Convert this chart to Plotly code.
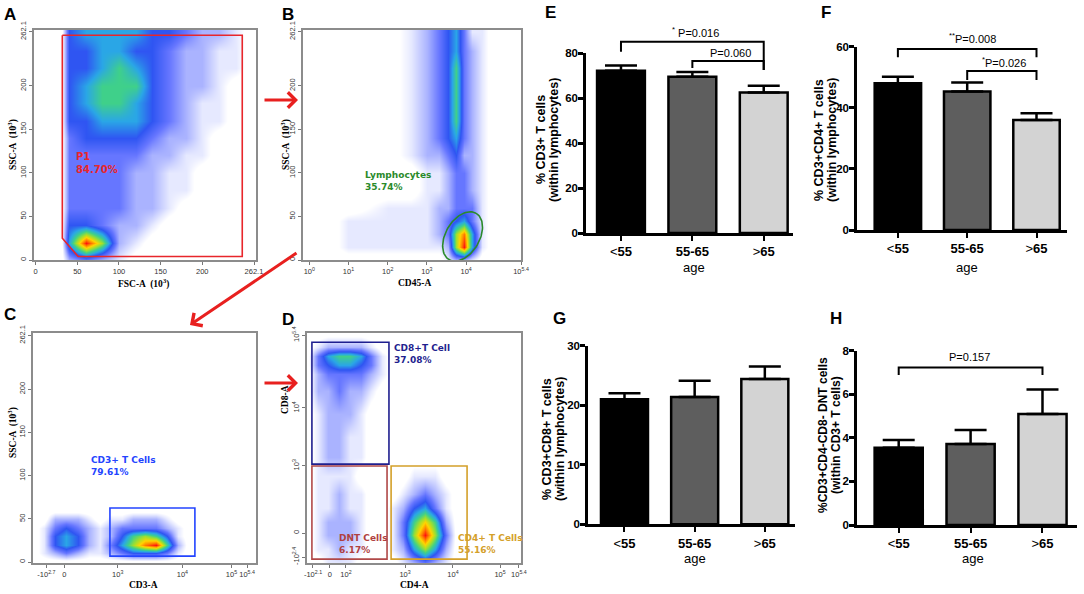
import numpy as np
import plotly.graph_objects as go

W, H = 1084, 594

# ================= DATA =================
# ---- bar charts (E-H) ----
age_groups = ["<55", "55-65", ">65"]
age_ticktext = ["&lt;<b>55</b>", "<b>55-65</b>", "&gt;<b>65</b>"]
group_pos = [0, 1, 2]

cd3_mean = [72.1, 69.5, 62.5]
cd3_err = [2.3, 2.1, 3.0]
cd4_mean = [48.0, 45.3, 36.0]
cd4_err = [2.2, 3.0, 2.2]
cd8_mean = [21.0, 21.4, 24.4]
cd8_err = [1.0, 2.7, 2.1]
dnt_mean = [3.55, 3.72, 5.09]
dnt_err = [0.35, 0.64, 1.13]

E_yticks = [0, 20, 40, 60, 80]
F_yticks = [0, 20, 40, 60]
G_yticks = [0, 10, 20, 30]
H_yticks = [0, 2, 4, 6, 8]

# significance brackets
E_sig_from = [0, 1]
E_sig_to = [2, 2]
E_sig_y = [85.0, 76.4]
E_sig_left_end = [80.6, 73.3]
E_sig_right_end = [72.4, 72.4]
E_sig_text = ["<sup>*</sup> P=0.016", "P=0.060"]
E_sig_text_x = [1.05, 1.53]
E_sig_text_y = [89.3, 80.1]

F_sig_from = [0, 1]
F_sig_to = [2, 2]
F_sig_y = [59.2, 52.0]
F_sig_left_end = [56.5, 49.1]
F_sig_right_end = [56.5, 49.1]
F_sig_text = ["<sup>**</sup>P=0.008", "<sup>*</sup>P=0.026"]
F_sig_text_x = [1.08, 1.53]
F_sig_text_y = [62.8, 55.0]

H_sig_from = [0]
H_sig_to = [2]
H_sig_y = [7.22]
H_sig_left_end = [6.88]
H_sig_right_end = [6.88]
H_sig_text = ["P=0.157"]
H_sig_text_x = [0.99]
H_sig_text_y = [7.72]

# ---- flow cytometry density grids (estimated event density, 0..10) ----
A_x = [0, 30, 40, 60, 80, 100, 120, 140, 160, 180, 200, 220, 240, 260]
A_y = [0, 20, 40, 60, 80, 100, 120, 140, 160, 180, 200, 220, 240, 260]
A_z = [
    [0, 0, 2, 3, 2, 1, 0, 0, 0, 0, 0, 0, 0, 0],
    [0, 0, 5, 10, 7, 2, 1, 0, 0, 0, 0, 0, 0, 0],
    [0, 0, 4, 4, 3, 2, 2, 1, 0, 0, 0, 0, 0, 0],
    [0, 0, 3, 3, 3, 3, 2, 2, 1, 0, 0, 0, 0, 0],
    [0, 0, 3, 3, 3, 3, 2, 2, 1, 1, 0, 0, 0, 0],
    [0, 0, 3, 3, 3, 3, 2, 2, 1, 1, 0, 0, 0, 0],
    [0, 0, 3, 3, 3, 3, 3, 2, 2, 1, 1, 0, 0, 0],
    [0, 0, 3, 4, 4, 4, 4, 3, 2, 2, 1, 0, 0, 0],
    [0, 0, 4, 4, 5, 5, 5, 4, 3, 2, 1, 1, 0, 0],
    [0, 0, 4, 5, 6, 6, 5, 4, 3, 2, 1, 1, 0, 0],
    [0, 0, 4, 5, 6, 6, 6, 4, 3, 2, 2, 1, 0, 0],
    [0, 0, 4, 4, 5, 6, 5, 4, 3, 2, 2, 1, 1, 0],
    [0, 0, 4, 4, 5, 5, 4, 4, 3, 2, 2, 1, 1, 0],
    [0, 0, 4, 5, 5, 5, 5, 4, 4, 3, 2, 2, 1, 0],
]

B_x = [-0.16, 0.5, 1, 2, 2.6, 3.0, 3.3, 3.55, 3.75, 3.95, 4.15, 4.4, 4.7, 5.4]  # log10(CD45)
B_y = [0, 15, 30, 45, 60, 80, 100, 120, 140, 160, 180, 200, 220, 240, 262]
B_z = [
    [0, 0, 0, 0, 0, 0, 0, 1, 2, 2, 1, 0, 0, 0],
    [0, 0, 1, 1, 1, 1, 1, 2, 7, 10, 5, 1, 0, 0],
    [0, 0, 1, 1, 1, 1, 2, 3, 7, 9, 5, 1, 0, 0],
    [0, 0, 1, 1, 1, 1, 2, 3, 4, 5, 3, 1, 0, 0],
    [0, 0, 0, 1, 1, 1, 2, 2, 3, 3, 3, 1, 0, 0],
    [0, 0, 0, 0, 0, 1, 1, 2, 3, 3, 2, 1, 0, 0],
    [0, 0, 0, 0, 0, 1, 1, 2, 3, 3, 2, 1, 0, 0],
    [0, 0, 0, 0, 1, 2, 2, 3, 4, 2, 2, 1, 0, 0],
    [0, 0, 0, 0, 1, 2, 3, 4, 5, 3, 2, 1, 0, 0],
    [0, 0, 0, 0, 1, 2, 3, 4, 6, 3, 2, 1, 0, 0],
    [0, 0, 0, 0, 1, 2, 3, 4, 6, 3, 2, 1, 0, 0],
    [0, 0, 0, 0, 1, 2, 3, 4, 6, 3, 2, 1, 0, 0],
    [0, 0, 0, 0, 1, 2, 3, 4, 6, 3, 2, 1, 0, 0],
    [0, 0, 0, 0, 1, 2, 3, 4, 5, 3, 2, 1, 0, 0],
    [0, 0, 0, 0, 1, 2, 3, 4, 5, 3, 1, 1, 0, 0],
]

C_x = [0, 5, 10, 15, 20, 25, 30, 35, 40, 45, 50, 55, 60, 65, 70, 75, 100]  # CD3 display units
C_y = [0, 10, 20, 30, 40, 50, 60, 265]
C_z = [
    [0, 0, 0, 0, 0, 0, 0, 0, 0, 0, 0, 0, 0, 0, 0, 0, 0],
    [0, 1, 2, 3, 2, 1, 1, 2, 3, 4, 4, 4, 3, 1, 0, 0, 0],
    [0, 1, 4, 5, 4, 2, 1, 3, 5, 7, 9, 10, 6, 2, 0, 0, 0],
    [0, 1, 4, 5, 4, 2, 1, 2, 4, 6, 7, 6, 4, 1, 0, 0, 0],
    [0, 1, 3, 4, 3, 2, 1, 2, 3, 3, 3, 3, 2, 1, 0, 0, 0],
    [0, 0, 2, 2, 2, 1, 0, 1, 1, 2, 2, 2, 1, 0, 0, 0, 0],
    [0, 0, 0, 0, 0, 0, 0, 0, 0, 0, 0, 0, 0, 0, 0, 0, 0],
    [0, 0, 0, 0, 0, 0, 0, 0, 0, 0, 0, 0, 0, 0, 0, 0, 0],
]

D_x = [0, 5, 10, 15, 20, 25, 30, 35, 40, 45, 50, 55, 60, 65, 70, 80, 100]  # CD4 display units
D_y = [0, 6, 12, 18, 24, 30, 38, 46, 55, 65, 75, 82, 86, 90, 94, 100]      # CD8 display units
D_z = [
    [0, 0, 1, 1, 1, 0, 0, 0, 0, 1, 2, 3, 2, 1, 0, 0, 0],
    [0, 1, 1, 2, 1, 1, 0, 0, 1, 2, 5, 7, 5, 2, 0, 0, 0],
    [0, 1, 2, 2, 2, 1, 0, 0, 1, 3, 7, 10, 7, 3, 0, 0, 0],
    [0, 1, 2, 2, 2, 1, 0, 0, 1, 3, 6, 8, 6, 2, 0, 0, 0],
    [0, 1, 1, 2, 1, 1, 0, 0, 1, 2, 4, 5, 3, 1, 0, 0, 0],
    [0, 1, 1, 2, 1, 1, 0, 0, 0, 1, 2, 3, 2, 1, 0, 0, 0],
    [0, 1, 1, 1, 1, 0, 0, 0, 0, 0, 1, 1, 1, 0, 0, 0, 0],
    [0, 1, 2, 2, 1, 1, 0, 0, 0, 0, 0, 0, 0, 0, 0, 0, 0],
    [0, 1, 2, 2, 1, 1, 0, 0, 0, 0, 0, 0, 0, 0, 0, 0, 0],
    [0, 1, 2, 2, 2, 1, 0, 0, 0, 0, 0, 0, 0, 0, 0, 0, 0],
    [0, 2, 2, 3, 2, 2, 1, 0, 0, 0, 0, 0, 0, 0, 0, 0, 0],
    [0, 2, 3, 3, 3, 3, 2, 1, 0, 0, 0, 0, 0, 0, 0, 0, 0],
    [0, 3, 4, 5, 5, 4, 3, 1, 0, 0, 0, 0, 0, 0, 0, 0, 0],
    [0, 3, 5, 6, 6, 5, 3, 1, 0, 0, 0, 0, 0, 0, 0, 0, 0],
    [0, 1, 2, 2, 2, 2, 1, 0, 0, 0, 0, 0, 0, 0, 0, 0, 0],
    [0, 0, 0, 0, 0, 0, 0, 0, 0, 0, 0, 0, 0, 0, 0, 0, 0],
]

# ---- flow tick labels ----
A_ticks = [0, 50, 100, 150, 200, 262.1]
A_ticktext = ["0", "50", "100", "150", "200", "262.1"]
B_xticks = [0, 1, 2, 3, 4, 5.4]
B_xticktext = ["10<sup>0</sup>", "10<sup>1</sup>", "10<sup>2</sup>", "10<sup>3</sup>",
               "10<sup>4</sup>", "10<sup>5.4</sup>"]
C_xticks = [6, 14, 38, 67, 89, 96]
C_xticktext = ["-10<sup>2.7</sup>", "0", "10<sup>3</sup>", "10<sup>4</sup>",
               "10<sup>5</sup>", "10<sup>5.4</sup>"]
D_xticks = [2.8, 10.7, 18.2, 45.8, 68.2, 90.2, 99]
D_xticktext = ["-10<sup>2.1</sup>", "0", "10<sup>2</sup>", "10<sup>3</sup>", "10<sup>4</sup>",
               "10<sup>5</sup>", "10<sup>5.4</sup>"]
D_yticks = [2.6, 13, 42.2, 67.4, 99]
D_yticktext = ["-10<sup>2.4</sup>", "0", "10<sup>3</sup>", "10<sup>4</sup>", "10<sup>5.4</sup>"]

# ---- gates ----
gateA_x = [32, 248, 248, 51, 32, 32]
gateA_y = [258, 258, 4, 4, 25, 258]
gateB_center = [3.91, 27.0]
gateC_x = [34.5, 72.6]
gateC_y = [7.0, 62.6]
gateD_cd8_x = [2.3, 38.3]
gateD_cd8_y = [43.0, 96.0]
gateD_dnt_x = [2.3, 37.4]
gateD_dnt_y = [1.7, 42.2]
gateD_cd4_x = [39.3, 74.8]
gateD_cd4_y = [1.7, 42.2]

# ================= STYLE / LAYOUT =================
def xd(a, b):
    return [a / W, b / W]

def yd(top, bottom):
    return [1 - bottom / H, 1 - top / H]

def px(x):
    return x / W

def py(y):
    return 1 - y / H

density_scale = [
    [0.0, "#ffffff"], [0.05, "#ffffff"], [0.1, "#e6e9ff"], [0.2, "#aab3ff"],
    [0.3, "#6676ff"], [0.4, "#2f55f2"], [0.5, "#2aa6e6"], [0.6, "#3fd08a"],
    [0.7, "#a0df2e"], [0.8, "#ffd400"], [0.9, "#ff7a00"], [1.0, "#ff1010"],
]

SANS = "Arial, Liberation Sans, sans-serif"
SERIF = "Times New Roman, Liberation Serif, serif"

fig = go.Figure()

def heat(x, y, z, xa, ya):
    fig.add_trace(go.Heatmap(x=x, y=y, z=z, zmin=0, zmax=10, zsmooth="best",
                             colorscale=density_scale, showscale=False,
                             hoverinfo="skip", xaxis=xa, yaxis=ya))

heat(A_x, A_y, A_z, "x", "y")
heat(B_x, B_y, B_z, "x2", "y2")
heat(C_x, C_y, C_z, "x3", "y3")
heat(D_x, D_y, D_z, "x4", "y4")

# gate A polygon
fig.add_trace(go.Scatter(x=gateA_x, y=gateA_y, mode="lines",
                         line=dict(color="#e8262b", width=1.6),
                         hoverinfo="skip", xaxis="x", yaxis="y"))
# gate B ellipse (tilted)
t = np.linspace(0, 2 * np.pi, 97)
a_px, b_px, ang = 27.0, 17.0, np.deg2rad(60)
px_per_dec, px_per_ssc = 39.3, 0.877
ex = gateB_center[0] + (a_px * np.cos(t) * np.cos(ang) - b_px * np.sin(t) * np.sin(ang)) / px_per_dec
ey = gateB_center[1] + (a_px * np.cos(t) * np.sin(ang) + b_px * np.sin(t) * np.cos(ang)) / px_per_ssc
fig.add_trace(go.Scatter(x=ex, y=ey, mode="lines", line=dict(color="#2a8a2a", width=1.6),
                         hoverinfo="skip", xaxis="x2", yaxis="y2"))

shapes = []
def rect(xr, yr, xa, ya, color):
    shapes.append(dict(type="rect", xref=xa, yref=ya, x0=xr[0], x1=xr[1], y0=yr[0], y1=yr[1],
                       line=dict(color=color, width=1.6), fillcolor="rgba(0,0,0,0)"))

rect(gateC_x, gateC_y, "x3", "y3", "#2344ff")
rect(gateD_cd8_x, gateD_cd8_y, "x4", "y4", "#1f1f8f")
rect(gateD_dnt_x, gateD_dnt_y, "x4", "y4", "#b04848")
rect(gateD_cd4_x, gateD_cd4_y, "x4", "y4", "#d4a02a")

# bar charts
bar_specs = [
    ("x5", "y5", cd3_mean, cd3_err),
    ("x6", "y6", cd4_mean, cd4_err),
    ("x7", "y7", cd8_mean, cd8_err),
    ("x8", "y8", dnt_mean, dnt_err),
]
for xa, ya, m, e in bar_specs:
    fig.add_trace(go.Bar(
        x=group_pos, y=m, width=0.67, xaxis=xa, yaxis=ya,
        marker=dict(color=["#000000", "#5e5e5e", "#d3d3d3"],
                    line=dict(color="#000000", width=2.5)),
        error_y=dict(type="data", symmetric=False, array=e, arrayminus=[0, 0, 0],
                     color="#000000", thickness=2.5, width=16),
        hoverinfo="skip"))

annotations = []

def brackets(xa, ya, frm, to, yy, le, re, txt, tx, ty):
    for i in range(len(frm)):
        fig.add_trace(go.Scatter(x=[frm[i], frm[i], to[i], to[i]],
                                 y=[le[i], yy[i], yy[i], re[i]], mode="lines",
                                 line=dict(color="#000000", width=2),
                                 hoverinfo="skip", xaxis=xa, yaxis=ya))
        annotations.append(dict(x=tx[i], y=ty[i], xref=xa, yref=ya, text=txt[i],
                                showarrow=False, xanchor="center", yanchor="middle",
                                font=dict(family=SANS, size=11, color="#000")))

brackets("x5", "y9", E_sig_from, E_sig_to, E_sig_y, E_sig_left_end, E_sig_right_end,
         E_sig_text, E_sig_text_x, E_sig_text_y)
brackets("x6", "y10", F_sig_from, F_sig_to, F_sig_y, F_sig_left_end, F_sig_right_end,
         F_sig_text, F_sig_text_x, F_sig_text_y)
brackets("x8", "y11", H_sig_from, H_sig_to, H_sig_y, H_sig_left_end, H_sig_right_end,
         H_sig_text, H_sig_text_x, H_sig_text_y)

flow_axis = dict(showline=True, mirror=True, linecolor="#8c8c8c", linewidth=1.5,
                 ticks="outside", ticklen=3, tickwidth=1, tickcolor="#777",
                 showgrid=False, zeroline=False, automargin=False,
                 tickfont=dict(family=SANS, size=7.5, color="#333"))

def bar_x(dom, rng, anchor):
    return dict(domain=dom, range=rng, anchor=anchor, showline=True, linecolor="#000",
                linewidth=2.5, ticks="outside", ticklen=5, tickwidth=2, tickcolor="#000",
                tickvals=group_pos, ticktext=age_ticktext, showgrid=False, zeroline=False,
                automargin=False, tickfont=dict(family=SANS, size=13, color="#000"))

def bar_y(dom, rng, anchor, tv):
    return dict(domain=dom, range=rng, anchor=anchor, showline=True, linecolor="#000",
                linewidth=2.5, ticks="outside", ticklen=5, tickwidth=2.5, tickcolor="#000",
                tickvals=tv, showgrid=False, zeroline=False, automargin=False,
                ticklabelstandoff=-2,
                tickfont=dict(family=SANS, size=11.5, color="#000", weight="bold"))

hidden = dict(visible=False, showgrid=False, zeroline=False)

layout = dict(
    width=W, height=H, autosize=False, margin=dict(l=0, r=0, t=0, b=0, pad=0),
    paper_bgcolor="white", plot_bgcolor="rgba(0,0,0,0)", showlegend=False,
    xaxis=dict(flow_axis, domain=xd(34, 256), range=[-2, 264.5], anchor="y",
               tickvals=A_ticks, ticktext=A_ticktext),
    yaxis=dict(flow_axis, domain=yd(30, 260), range=[0, 264], anchor="x",
               tickvals=A_ticks, ticktext=A_ticktext, tickangle=-90),
    xaxis2=dict(flow_axis, domain=xd(303, 521), range=[-0.16, 5.4], anchor="y2",
                tickvals=B_xticks, ticktext=B_xticktext),
    yaxis2=dict(flow_axis, domain=yd(30, 260), range=[0, 264], anchor="x2",
                tickvals=A_ticks, ticktext=A_ticktext, tickangle=-90),
    xaxis3=dict(flow_axis, domain=xd(33, 256), range=[0, 100], anchor="y3",
                tickvals=C_xticks, ticktext=C_xticktext),
    yaxis3=dict(flow_axis, domain=yd(333, 563), range=[-1, 265], anchor="x3",
                tickvals=A_ticks, ticktext=A_ticktext, tickangle=-90),
    xaxis4=dict(flow_axis, domain=xd(307, 521), range=[0, 100], anchor="y4",
                tickvals=D_xticks, ticktext=D_xticktext),
    yaxis4=dict(flow_axis, domain=yd(333, 563), range=[0, 100], anchor="x4",
                tickvals=D_yticks, ticktext=D_yticktext, tickangle=-90),
    xaxis5=bar_x(xd(586, 793), [-0.49, 2.41], "y5"),
    yaxis5=bar_y(yd(53, 233), [0, 80], "x5", E_yticks),
    yaxis9=dict(hidden, domain=yd(25, 233), range=[0, 92.44], anchor="x5"),
    xaxis6=bar_x(xd(857, 1067), [-0.59, 2.44], "y6"),
    yaxis6=bar_y(yd(46.7, 230), [0, 60], "x6", F_yticks),
    yaxis10=dict(hidden, domain=yd(25, 230), range=[0, 67.08], anchor="x6"),
    xaxis7=bar_x(xd(588, 795), [-0.52, 2.43], "y7"),
    yaxis7=bar_y(yd(345.7, 524.3), [0, 30], "x7", G_yticks),
    xaxis8=bar_x(xd(857, 1077), [-0.58, 2.48], "y8"),
    yaxis8=bar_y(yd(350.7, 525), [0, 8], "x8", H_yticks),
    yaxis11=dict(hidden, domain=yd(325, 525), range=[0, 9.17], anchor="x8"),
)

def txt(x, y, s, size, color="#000", family=SANS, angle=0, xanchor="center", bold=False,
        align="center"):
    annotations.append(dict(x=px(x), y=py(y), xref="paper", yref="paper", text=s,
                            showarrow=False, textangle=angle, xanchor=xanchor,
                            yanchor="middle", align=align,
                            font=dict(family=family, size=size, color=color,
                                      weight="bold" if bold else "normal")))

# panel letters
for L, x, y in [("A", 10, 14), ("B", 288, 14), ("C", 10, 314), ("D", 288, 319),
                ("E", 550, 13), ("F", 826, 13), ("G", 559, 318), ("H", 836, 318)]:
    txt(x, y, L, 17, bold=True)

# flow axis titles
txt(143, 283, "FSC-A  (10<sup>3</sup>)", 9.5, family=SERIF, bold=True)
txt(12, 145, "SSC-A  (10<sup>3</sup>)", 9.5, family=SERIF, bold=True, angle=-90)
txt(414, 283, "CD45-A", 9.5, family=SERIF, bold=True)
txt(285, 145, "SSC-A  (10<sup>3</sup>)", 9.5, family=SERIF, bold=True, angle=-90)
txt(143, 585, "CD3-A", 9.5, family=SERIF, bold=True)
txt(12, 433, "SSC-A  (10<sup>3</sup>)", 9.5, family=SERIF, bold=True, angle=-90)
txt(414, 585, "CD4-A", 9.5, family=SERIF, bold=True)
txt(285, 400, "CD8-A", 9.5, family=SERIF, bold=True, angle=-90)

# gate labels
GF = "Verdana, DejaVu Sans, sans-serif"
txt(74, 163, "P1<br>84.70%", 10, color="#e8262b", family=GF, xanchor="left", bold=True, align="left")
txt(363, 181, "Lymphocytes<br>35.74%", 9, color="#2a8a2a", family=GF, xanchor="left", bold=True, align="left")
txt(89, 466, "CD3+ T Cells<br>79.61%", 9, color="#2344ff", family=GF, xanchor="left", bold=True, align="left")
txt(392, 354, "CD8+T Cell<br>37.08%", 9, color="#1f1f8f", family=GF, xanchor="left", bold=True, align="left")
txt(337, 544, "DNT Cells<br>6.17%", 9, color="#b04040", family=GF, xanchor="left", bold=True, align="left")
txt(456, 544, "CD4+ T Cells<br>55.16%", 9, color="#d4a02a", family=GF, xanchor="left", bold=True, align="left")

# bar chart axis titles (one annotation per line for tight line spacing)
for x1, x2, y, l1, l2, fs in [
        (541, 554, 140, "% CD3+ T cells", "(within lymphocytes)", 12.5),
        (819, 832, 140, "% CD3+CD4+ T cells", "(within lymphocytes)", 12.5),
        (547, 560, 439, "% CD3+CD8+ T cells", "(within lymphocytes)", 12.5),
        (823, 836, 435, "%CD3+CD4-CD8- DNT cells", "(within CD3+ T cells)", 12)]:
    txt(x1, y, l1, fs, bold=True, angle=-90)
    txt(x2, y, l2, fs, bold=True, angle=-90)
for x, y in [(694, 267), (967, 267), (695, 558), (973, 558)]:
    txt(x, y, "age", 13)

# red arrows between flow panels
for hx, hy, tx_, ty_ in [(298, 100, 263, 100), (190, 325, 298, 252), (298, 383, 263, 383)]:
    annotations.append(dict(x=px(hx), y=py(hy), xref="paper", yref="paper",
                            ax=tx_ - hx, ay=ty_ - hy, axref="pixel", ayref="pixel",
                            text="", showarrow=True, arrowhead=4, arrowsize=1.0,
                            arrowwidth=3, arrowcolor="#e8201f"))

layout["shapes"] = shapes
layout["annotations"] = annotations
fig.update_layout(**layout)

post = ("document.body.style.margin='0';document.body.style.padding='0';"
        "document.body.style.overflow='hidden';"
        "var gd=document.getElementById('{plot_id}');"
        "gd.style.width='1084px';gd.style.height='594px';"
        "Plotly.relayout(gd,{width:1084,height:594});")
fig.write_html("out.html", config={"responsive": False, "displayModeBar": False},
               post_script=post)
